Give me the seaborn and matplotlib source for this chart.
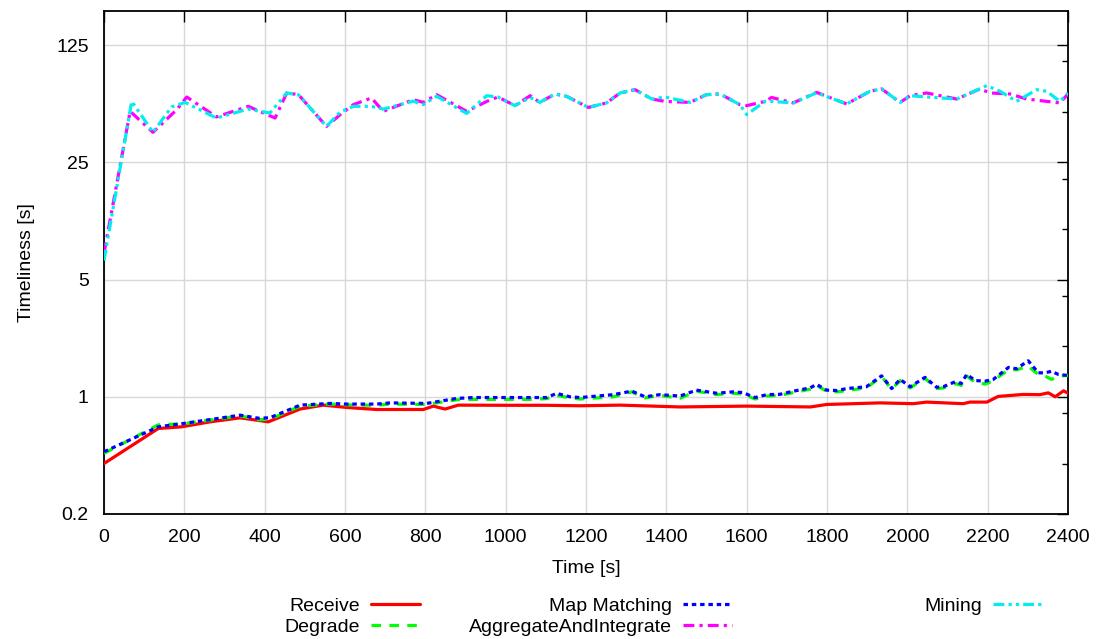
import matplotlib
matplotlib.use("Agg")
import matplotlib.pyplot as plt
from matplotlib.ticker import FixedLocator, FuncFormatter, NullLocator
import seaborn as sns

# ---- data -----------------------------------------------------------------
receive_t = [0, 135, 193, 264, 339, 409, 488, 546, 604, 679, 795, 820, 849, 882,
             1000, 1100, 1185, 1285, 1434, 1600, 1759, 1799, 1932, 2015, 2048,
             2139, 2156, 2198, 2226, 2288, 2330, 2351, 2368, 2389, 2400]
receive_v = [0.40, 0.647, 0.662, 0.709, 0.749, 0.709, 0.845, 0.892, 0.864, 0.84,
             0.84, 0.88, 0.845, 0.892, 0.89, 0.89, 0.884, 0.892, 0.87, 0.88,
             0.87, 0.90, 0.92, 0.91, 0.93, 0.91, 0.93, 0.93, 1.005, 1.033,
             1.03, 1.056, 1.0, 1.086, 1.05]

mm_t = [0, 135, 197, 339, 385, 413, 488, 563, 604, 679, 712, 803, 878, 920, 1000,
        1060, 1102, 1127, 1160, 1185, 1268, 1314, 1347, 1384, 1434, 1475, 1525,
        1566, 1590, 1621, 1650, 1683, 1716, 1758, 1774, 1799, 1825, 1849, 1898,
        1936, 1961, 1982, 2007, 2044, 2073, 2090, 2119, 2134, 2148, 2169, 2194,
        2214, 2252, 2272, 2301, 2326, 2343, 2359, 2376, 2400]
degrade_v = [0.46, 0.68, 0.69, 0.77, 0.73, 0.735, 0.88, 0.905, 0.895, 0.89,
             0.905, 0.90, 0.96, 0.965, 0.965, 0.965, 0.975, 1.02, 0.985, 0.97,
             1.0, 1.07, 0.985, 1.02, 0.98, 1.08, 1.03, 1.05, 1.04, 0.97, 1.01,
             1.02, 1.06, 1.11, 1.17, 1.08, 1.07, 1.09, 1.13, 1.32, 1.11, 1.25,
             1.13, 1.29, 1.12, 1.13, 1.20, 1.17, 1.33, 1.22, 1.19, 1.25, 1.45,
             1.45, 1.52, 1.36, 1.33, 1.27, 1.33, 1.34]
mapmatch_v = [0.47, 0.662, 0.693, 0.777, 0.745, 0.75, 0.892, 0.913, 0.905,
              0.905, 0.92, 0.913, 0.978, 0.99, 0.99, 0.99, 0.99, 1.048, 1.0,
              0.99, 1.03, 1.081, 1.0, 1.03, 1.01, 1.096, 1.05, 1.07, 1.06, 0.99,
              1.03, 1.035, 1.08, 1.13, 1.186, 1.096, 1.09, 1.12, 1.148, 1.334,
              1.12, 1.27, 1.148, 1.306, 1.14, 1.15, 1.229, 1.2, 1.36, 1.25, 1.24,
              1.27, 1.498, 1.47, 1.64, 1.39, 1.39, 1.42, 1.36, 1.34]

agg_t = [0, 65, 122, 181, 206, 280, 359, 426, 455, 484, 554, 588, 621, 666, 695,
         770, 795, 828, 903, 953, 981, 1023, 1061, 1085, 1123, 1152, 1206, 1251,
         1285, 1322, 1364, 1397, 1459, 1500, 1534, 1583, 1600, 1646, 1662, 1716,
         1774, 1849, 1907, 1936, 1982, 2007, 2048, 2123, 2181, 2206, 2256, 2297,
         2380, 2400]
agg_v = [7.2, 50.4, 37.8, 51.6, 61.4, 46.7, 54, 46, 64.9, 63.4, 41, 48.2, 55.3,
         60.6, 50.4, 59.2, 57, 63.4, 50.4, 57.8, 61.4, 54.5, 62.5, 57, 64, 61.9,
         53.2, 56.6, 64.9, 67.9, 59.7, 57.8, 57, 63.4, 64, 55.3, 54.5, 57.8, 61,
         56.6, 65.4, 55.8, 66.4, 68.6, 57, 62.5, 64.9, 59.7, 68.6, 64.9, 64,
         59.7, 56.6, 64]

mining_t = [0, 69, 122, 168, 202, 280, 359, 413, 455, 484, 554, 588, 621, 666,
            695, 770, 795, 828, 903, 953, 981, 1023, 1061, 1085, 1123, 1152,
            1206, 1251, 1285, 1322, 1364, 1397, 1459, 1500, 1534, 1583, 1600,
            1646, 1662, 1716, 1774, 1849, 1907, 1936, 1982, 2007, 2048, 2123,
            2198, 2231, 2272, 2322, 2347, 2380, 2400]
mining_v = [6.5, 57.8, 37.8, 53.5, 57, 46, 52, 49.3, 64.9, 63.4, 41, 50, 54, 54,
            52, 58, 55.3, 62, 49, 62.5, 61.4, 54.5, 61, 57, 64, 61.9, 53.2, 56.6,
            64.9, 67.9, 59.7, 61.4, 57, 63.4, 64, 55.3, 48.2, 57.8, 57.8, 56.6,
            65, 55.8, 66.4, 68.6, 57, 62.5, 61.4, 59.7, 71.8, 66.4, 57.8, 67.9,
            66.4, 57.8, 64.9]

series_names = ["Receive", "Degrade", "Map Matching", "AggregateAndIntegrate", "Mining"]
y_major = [0.2, 1, 5, 25, 125]
y_minor = [0.4, 0.8, 2, 4, 10, 20, 50, 100]
x_major = list(range(0, 2401, 200))

# ---- style ----------------------------------------------------------------
sns.set_style("white")
plt.rcParams["font.family"] = ["Liberation Sans", "DejaVu Sans"]
plt.rcParams["font.size"] = 14
for key in ("text.color", "axes.labelcolor", "xtick.color", "ytick.color"):
    plt.rcParams[key] = "black"

fig = plt.figure(figsize=(10.96, 6.39), dpi=100)
ax = fig.add_axes([104 / 1096, 1 - 514 / 639, 964 / 1096, 503 / 639])

lw = 2.3
styles = [
    dict(color="#ff0000", linestyle="-"),
    dict(color="#00ff00", linestyle=(0, (3.0, 2.6))),
    dict(color="#0000ff", linestyle=(0, (1.4, 1.2))),
    dict(color="#ff00ff", linestyle=(0, (3.4, 1.6, 1.0, 1.6))),
    dict(color="#00eeee", linestyle=(0, (3.4, 1.3, 1.0, 1.3, 1.0, 1.3))),
]
data = [(receive_t, receive_v), (mm_t, degrade_v), (mm_t, mapmatch_v),
        (agg_t, agg_v), (mining_t, mining_v)]

handles = []
for (t, v), st in zip(data, styles):
    sns.lineplot(x=t, y=v, ax=ax, lw=lw, sort=False, estimator=None,
                 legend=False, zorder=3, **st)
    handles.append(ax.lines[-1])

# ---- axes -----------------------------------------------------------------
ax.set_yscale("log", base=5)
ax.set_ylim(0.2, 200)
ax.set_xlim(0, 2400)
ax.yaxis.set_major_locator(FixedLocator(y_major))
ax.yaxis.set_minor_locator(FixedLocator(y_minor))
ax.yaxis.set_major_formatter(FuncFormatter(lambda v, p: f"{v:g}"))
ax.yaxis.set_minor_formatter(FuncFormatter(lambda v, p: ""))
ax.xaxis.set_major_locator(FixedLocator(x_major))
ax.xaxis.set_minor_locator(NullLocator())

ax.grid(True, which="major", color="#d8d8d8", lw=1.0, zorder=0)
ax.set_axisbelow(True)
for s in ax.spines.values():
    s.set_color("black")
    s.set_linewidth(1.3)
ax.tick_params(which="both", direction="in", top=True, right=True,
               color="black", labelcolor="black", labelsize=14)
ax.tick_params(axis="x", which="major", pad=11)
ax.tick_params(axis="y", which="major", pad=11)
ax.tick_params(which="major", length=8, width=1.0)
ax.tick_params(which="minor", length=4, width=1.0)

ax.set_xlabel("Time [s]", fontsize=14, labelpad=10)
ax.set_ylabel("Timeliness [s]", fontsize=14, labelpad=15)

# ---- legend: three right-aligned columns below the axes ------------------
W, H = 1096, 639
groups = [([0, 1], 420), ([2, 3], 732), ([4], 1042)]
for idx, right in groups:
    fig.legend([handles[i] for i in idx], [series_names[i] for i in idx],
               loc="upper right", bbox_to_anchor=(right / W, 1 - 597 / H),
               frameon=False, markerfirst=False, borderpad=0, borderaxespad=0,
               handlelength=2.5, handletextpad=0.6, labelspacing=0.2,
               fontsize=14)

fig.savefig("out.png", dpi=100)
